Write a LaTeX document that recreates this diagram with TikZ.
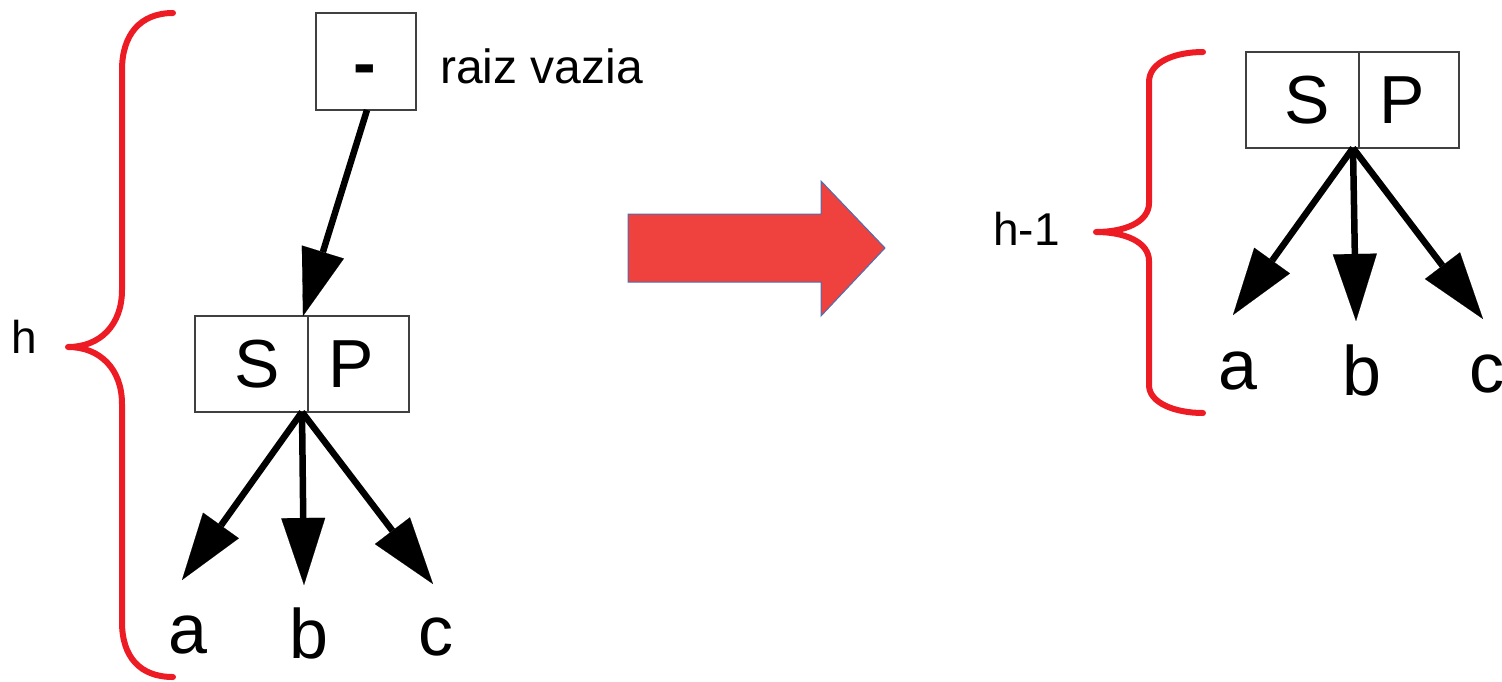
\documentclass[tikz,border=0pt]{standalone}
\usepackage{fontspec}
\setmainfont{Liberation Sans}
\usetikzlibrary{arrows.meta}
\definecolor{bracered}{HTML}{ED1C24}
\definecolor{blockred}{HTML}{EF413D}
\definecolor{blockedge}{HTML}{4A6FB5}
\definecolor{boxedge}{HTML}{404040}
\tikzset{
  cell/.style={draw=boxedge, line width=1.2pt, minimum height=96pt, inner sep=0pt, outer sep=0pt},
  cellletter/.style={inner sep=0pt, font=\fontsize{68}{68}\selectfont},
  leaf/.style={inner sep=0pt, anchor=base, font=\fontsize{70}{70}\selectfont},
  lbl/.style={inner sep=0pt, anchor=base, font=\fontsize{46}{46}\selectfont},
  arr/.style={line width=6.5pt, -{Triangle[length=67pt,width=44pt,line width=0.1pt]}},
  brace/.style={draw=bracered, line width=6pt, line cap=round, line join=round}
}
\begin{document}
\begin{tikzpicture}[x=1pt,y=-1pt]
\useasboundingbox (0,0) rectangle (1502,681);

% ---------- left tree ----------
\node[cell, minimum width=100pt, minimum height=97pt] (root) at (366,61.5) {};
\node[inner sep=0pt, font=\fontsize{68}{68}\bfseries\selectfont] (dash) at (365,76) {-};
\node[lbl, anchor=base west, font=\fontsize{48}{48}\selectfont] (raiz) at (440,83) {raiz vazia};

\node[cell, minimum width=113pt] (sL) at (251.5,364) {};
\node[cell, minimum width=101pt] (pL) at (358.5,364) {};
\node[cellletter] (sLt) at (257,364) {S};
\node[cellletter] (pLt) at (351,364) {P};

\coordinate (rootout) at (367,110);
\coordinate (inL) at (303,316);
\draw[arr] (rootout) -- (inL);

\coordinate (oL) at (302,412);
\coordinate (taL) at (182,580);
\coordinate (tbL) at (304,585);
\coordinate (tcL) at (433,584);
\draw[arr] (oL) -- (taL);
\draw[arr] (oL) -- (tbL);
\draw[arr] (oL) -- (tcL);

\node[leaf] (aL) at (187.5,653) {a};
\node[leaf] (bL) at (309,658) {b};
\node[leaf] (cL) at (436,655) {c};

\draw[brace] (173,13) .. controls (140,13) and (122,35) .. (122,70)
  -- (122,290) .. controls (122,325) and (100,347) .. (68,347)
  .. controls (100,347) and (122,369) .. (122,404)
  -- (122,622) .. controls (122,657) and (140,677) .. (173,677);
\node[lbl] (h) at (24.5,353) {h};

% ---------- block arrow ----------
\filldraw[fill=blockred, draw=blockedge, line width=1pt, line join=miter]
  (628,214) -- (821,214) -- (821,181) -- (885,248) -- (821,316) -- (821,282) -- (628,282) -- cycle;

% ---------- right tree ----------
\node[cell, minimum width=113pt] (sR) at (1302.5,100) {};
\node[cell, minimum width=100pt] (pR) at (1409,100) {};
\node[cellletter] (sRt) at (1307.5,100) {S};
\node[cellletter] (pRt) at (1402.5,100) {P};

\coordinate (oR) at (1353,148);
\coordinate (taR) at (1233,315);
\coordinate (tbR) at (1356,321);
\coordinate (tcR) at (1483,319);
\draw[arr] (oR) -- (taR);
\draw[arr] (oR) -- (tbR);
\draw[arr] (oR) -- (tcR);

\node[leaf] (aR) at (1238,389) {a};
\node[leaf] (bR) at (1362,395) {b};
\node[leaf] (cR) at (1487,392) {c};

\draw[brace] (1203,52) .. controls (1175,52) and (1149,62) .. (1149,82)
  -- (1149,203) .. controls (1149,222) and (1125,232) .. (1096,232)
  .. controls (1125,232) and (1149,242) .. (1149,261)
  -- (1149,385) .. controls (1149,403) and (1175,413) .. (1203,413);
\node[lbl] (h1) at (1026.5,245) {h-1};
\end{tikzpicture}
\end{document}
